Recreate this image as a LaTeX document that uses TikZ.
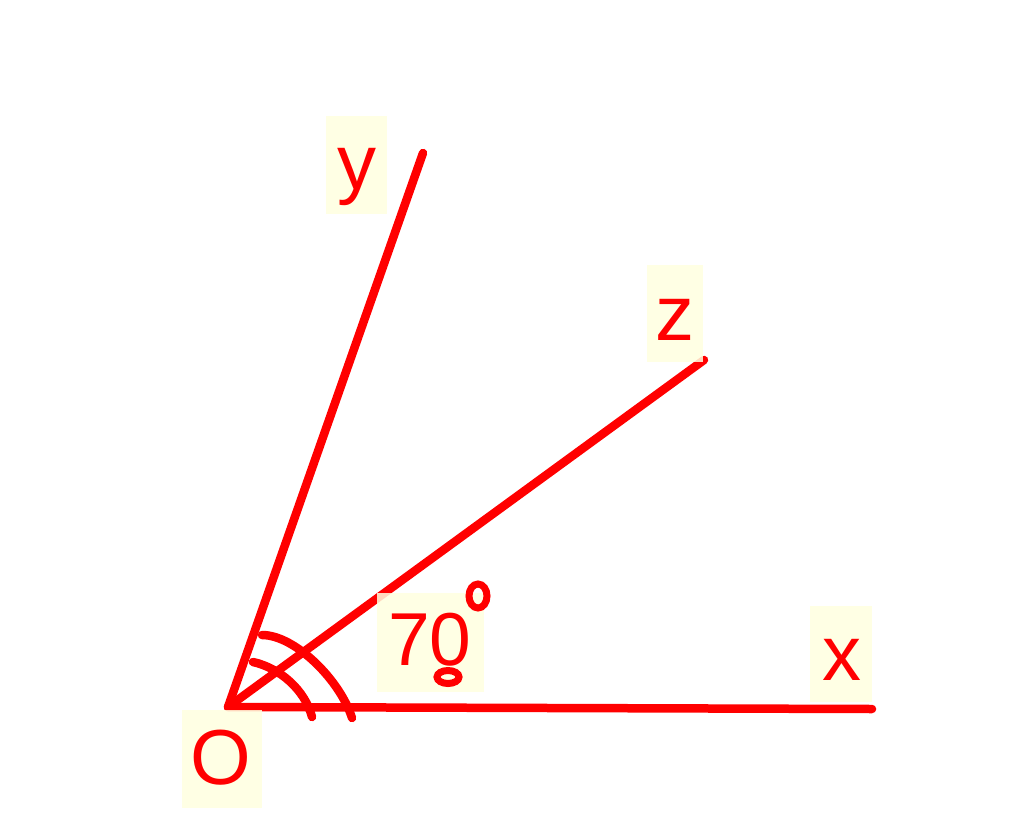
\documentclass[tikz,border=0pt]{standalone}
\usepackage{fontspec}
\setmainfont{Liberation Sans}
\definecolor{boxbg}{RGB}{255,255,224}
\begin{document}
\begin{tikzpicture}[x=1pt,y=-1pt,
  ray/.style={draw=red,line width=8.5pt,line cap=round},
  bgbox/.style={fill=boxbg,fill opacity=0.85,inner sep=0pt,draw=none},
  lbl/.style={text=red,inner sep=0pt,font=\fontsize{78}{78}\selectfont}]
\useasboundingbox (0,0) rectangle (1024,821);
\fill[white] (0,0) rectangle (1024,821);
\coordinate (O) at (228,707);
\coordinate (X) at (872,709);
\coordinate (Y) at (423,153);
\coordinate (Z) at (704,360);
\draw[ray] (O) -- (X);
\draw[ray] (O) -- (Y);
\draw[ray] (O) -- (Z);
\coordinate (a1s) at (253,662);
\coordinate (a1e) at (312,717);
\coordinate (a2s) at (262,635);
\coordinate (a2e) at (352,718);
\draw[ray] (a1s) .. controls (280,668) and (305,690) .. (a1e);
\draw[ray] (a2s) .. controls (295,635) and (340,680) .. (a2e);
% background boxes
\node[bgbox,minimum width=61pt,minimum height=98pt] (yb) at (356.5,165) {};
\node[bgbox,minimum width=56pt,minimum height=97pt] (zb) at (675,313.5) {};
\node[bgbox,minimum width=62pt,minimum height=96pt] (xb) at (841,654) {};
\node[bgbox,minimum width=80pt,minimum height=98pt] (ob) at (222,759) {};
\node[bgbox,minimum width=107pt,minimum height=99pt] (tb) at (430.5,642.5) {};
% labels
\node[lbl] (ylab) at (357,177) {y};
\node[lbl] (zlab) at (675,320) {z};
\node[lbl] (xlab) at (842,660) {x};
\node[lbl] (olab) at (221,758) {O};
\node[lbl,font=\fontsize{75}{75}\selectfont] (tlab) at (430,640) {70};
\draw[red,line width=7pt] (478,596) ellipse [x radius=9pt,y radius=12pt];
\draw[red,line width=7pt] (448,677) ellipse [x radius=11pt,y radius=6.5pt];
\end{tikzpicture}
\end{document}
